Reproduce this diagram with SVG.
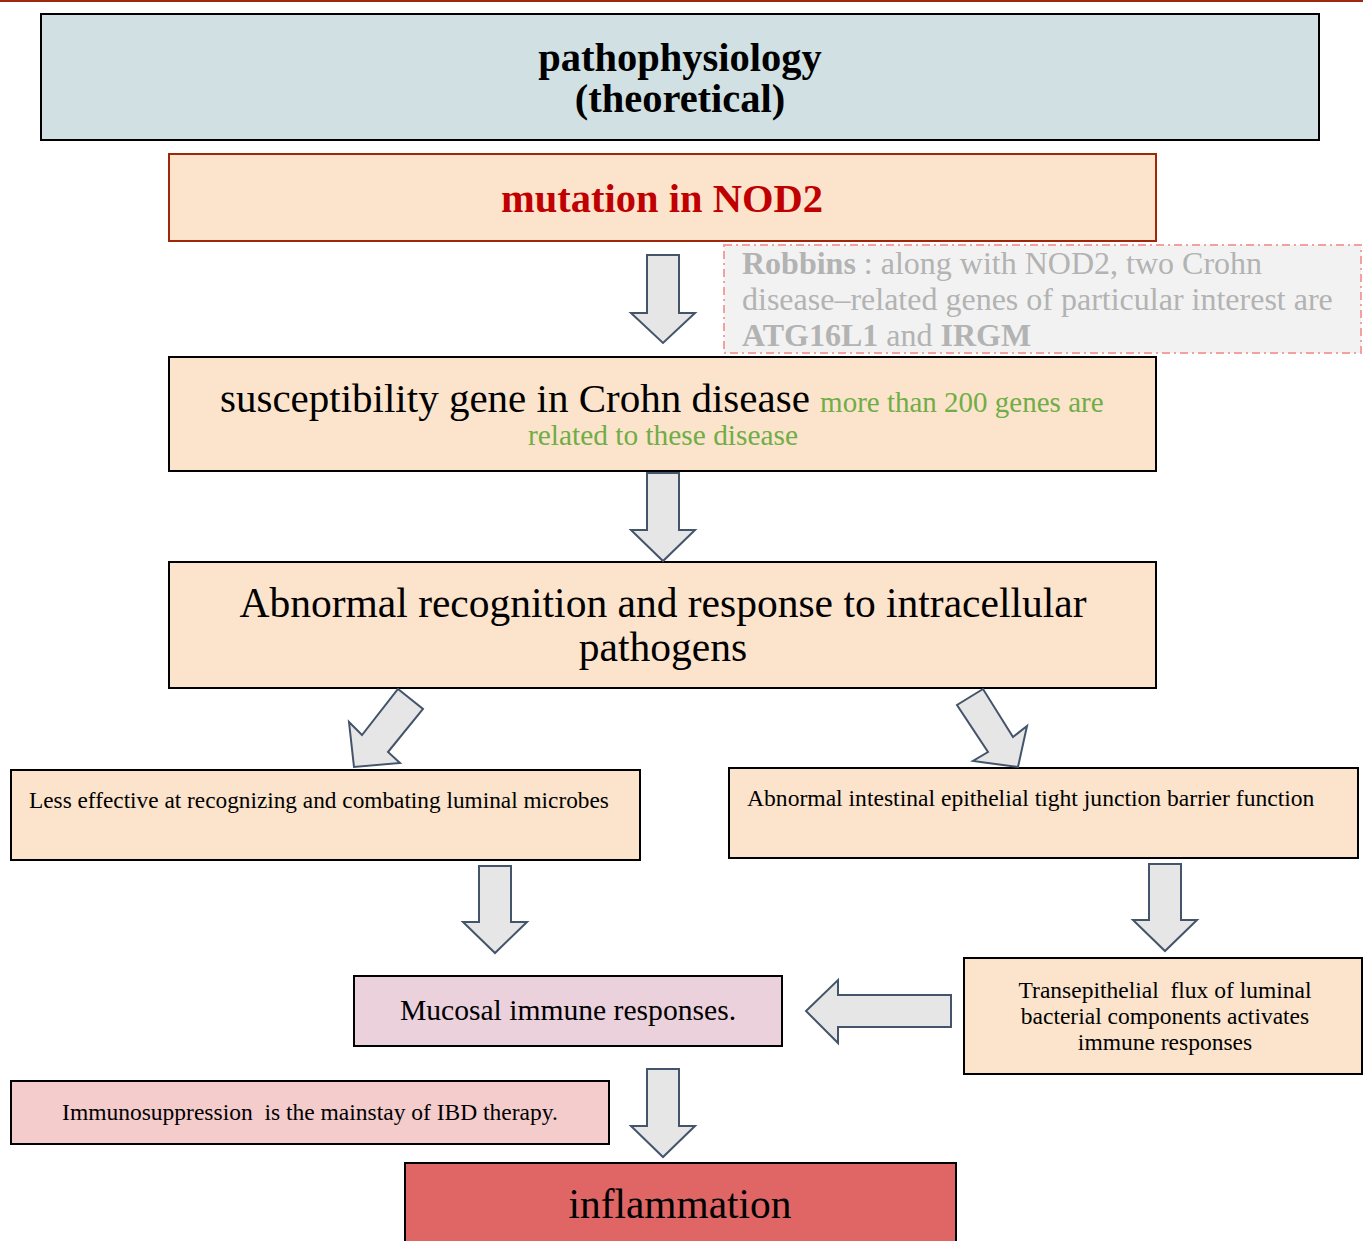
<svg xmlns="http://www.w3.org/2000/svg" width="1363" height="1241" viewBox="0 0 1363 1241">
<style>
.box{stroke:#000;stroke-width:2}
.peach{fill:#fce4cc}
.arr{fill:#e6e6e6;stroke:#44546a;stroke-width:2;stroke-linejoin:miter}
text{font-family:"Liberation Serif","DejaVu Serif",serif;fill:#000}
.c{text-anchor:middle}
.b{font-weight:bold}
.pre{white-space:pre}
.g{fill:#b3b3b3}
.gr{fill:#70ad47}
</style>
<rect x="0" y="0" width="1363" height="1241" fill="#fff"/>
<line x1="0" y1="1" x2="1363" y2="1" stroke="#9b2a10" stroke-width="2"/>
<g id="title">
<rect class="box" x="41" y="14" width="1278" height="126" fill="#d0e0e3"/>
<text class="c b" x="680" y="71" font-size="40.5">pathophysiology</text>
<text class="c b" x="680" y="112" font-size="40.5">(theoretical)</text>
</g>
<g id="mutation">
<rect x="169" y="154" width="987" height="87" class="peach" stroke="#a0280a" stroke-width="2"/>
<text class="c b" x="662" y="212" font-size="40.5" style="fill:#c00000">mutation in NOD2</text>
</g>
<g id="robbins">
<rect x="724" y="245" width="637" height="108" fill="#f2f2f2" stroke="#f4a0a0" stroke-width="2" stroke-dasharray="8,4,2,4"/>
<text class="g" x="742" y="274" font-size="32"><tspan font-weight="bold">Robbins</tspan> : along with NOD2, two Crohn</text>
<text class="g" x="742" y="310" font-size="32">disease–related genes of particular interest are</text>
<text class="g" x="742" y="346" font-size="32"><tspan font-weight="bold">ATG16L1</tspan> and <tspan font-weight="bold">IRGM</tspan></text>
</g>
<g id="susceptibility">
<rect class="box peach" x="169" y="357" width="987" height="114"/>
<text x="220" y="412" font-size="41">susceptibility gene in Crohn disease <tspan class="gr" font-size="29">more than 200 genes are</tspan></text>
<text class="c gr" x="663" y="445" font-size="29.4">related to these disease</text>
</g>
<g id="abnormal-recognition">
<rect class="box peach" x="169" y="562" width="987" height="126"/>
<text class="c" x="663" y="617" font-size="41.5">Abnormal recognition and response to intracellular</text>
<text class="c" x="663" y="661" font-size="41.5">pathogens</text>
</g>
<g id="less-effective">
<rect class="box peach" x="11" y="770" width="629" height="90"/>
<text x="29" y="808" font-size="23.3">Less effective at recognizing and combating luminal microbes</text>
</g>
<g id="barrier">
<rect class="box peach" x="729" y="768" width="629" height="90"/>
<text x="747" y="806" font-size="23.6">Abnormal intestinal epithelial tight junction barrier function</text>
</g>
<g id="mucosal">
<rect class="box" x="354" y="976" width="428" height="70" fill="#ead1dc"/>
<text class="c" x="568" y="1020" font-size="29.6">Mucosal immune responses.</text>
</g>
<g id="transepithelial">
<rect class="box peach" x="964" y="958" width="398" height="116"/>
<text class="c pre" x="1165" y="998" font-size="23.5">Transepithelial  flux of luminal</text>
<text class="c" x="1165" y="1024" font-size="23.5">bacterial components activates</text>
<text class="c" x="1165" y="1050" font-size="23.5">immune responses</text>
</g>
<g id="immunosuppression">
<rect class="box" x="11" y="1081" width="598" height="63" fill="#f4cccc"/>
<text class="c pre" x="310" y="1120" font-size="23.5">Immunosuppression  is the mainstay of IBD therapy.</text>
</g>
<g id="inflammation">
<rect class="box" x="405" y="1163" width="551" height="90" fill="#e06666"/>
<text class="c" x="680" y="1218" font-size="41.4">inflammation</text>
</g>
<g id="connectors">
<polygon class="arr" points="647,255 679,255 679,313 695,313 663,343 631,313 647,313"/>
<polygon class="arr" points="647,473 679,473 679,530 695,530 663,561 631,530 647,530"/>
<polygon class="arr" points="398,689 423,709 388,752 400,763 354,767 349,722 362,735"/>
<polygon class="arr" points="983,689 957,705 988,752 973,761 1018,767 1027,726 1013,737"/>
<polygon class="arr" points="479,866 511,866 511,922 527,922 495,953 463,922 479,922"/>
<polygon class="arr" points="1149,864 1181,864 1181,920 1197,920 1165,951 1133,920 1149,920"/>
<polygon class="arr" points="951,995 951,1027 838,1027 838,1043 806,1011 838,980 838,995"/>
<polygon class="arr" points="647,1069 679,1069 679,1126 695,1126 663,1157 631,1126 647,1126"/>
</g>
</svg>
